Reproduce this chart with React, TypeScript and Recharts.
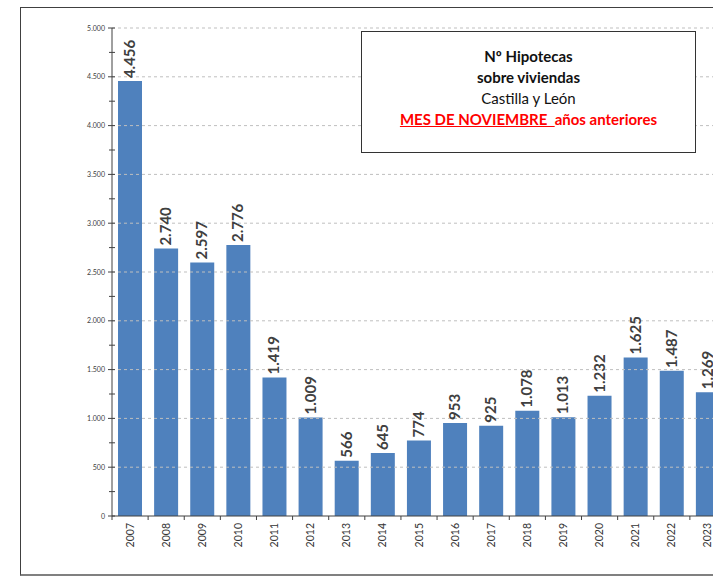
import React from 'react';
import { BarChart, Bar, XAxis, YAxis, ReferenceLine, LabelList } from 'recharts';

// ---------------------------------------------------------------------------
// Data
// ---------------------------------------------------------------------------

const years = ['2007', '2008', '2009', '2010', '2011', '2012', '2013', '2014', '2015',
  '2016', '2017', '2018', '2019', '2020', '2021', '2022', '2023'];
const hipotecas = [4456, 2740, 2597, 2776, 1419, 1009, 566, 645, 774, 953, 925, 1078,
  1013, 1232, 1625, 1487, 1269];
const yMajorTicks = [0, 500, 1000, 1500, 2000, 2500, 3000, 3500, 4000, 4500, 5000];
const yMinorTicks = [250, 750, 1250, 1750, 2250, 2750, 3250, 3750, 4250, 4750];

const data = years.map((year, i) => ({ year, value: hipotecas[i] }));

// ---------------------------------------------------------------------------
// Layout
// ---------------------------------------------------------------------------

const CHART_W = 760;
const CHART_H = 579;
const AXIS_X = 112;
const PLOT_RIGHT = 726;
const PLOT_BOTTOM = 516;
const BAND = (PLOT_RIGHT - AXIS_X) / years.length;
const FONT = 'Lato, "Open Sans", sans-serif';

const fmt = (v: number) => String(v).replace(/\B(?=(\d{3})+(?!\d))/g, '.');

const YTick = (props: any) => {
  const { y, payload } = props;
  const major = yMajorTicks.includes(payload.value);
  return (
    <g>
      <line x1={major ? AXIS_X - 4 : AXIS_X - 3} x2={AXIS_X + 3} y1={y} y2={y} stroke="#404040" />
      {major && (
        <text x={AXIS_X - 7} y={y} dy={2.5} textAnchor="end" fontSize={7} fill="#404040" fontFamily={FONT}>
          {fmt(payload.value)}
        </text>
      )}
    </g>
  );
};

const XTick = (props: any) => {
  const { x, payload, index } = props;
  const isLast = index === years.length - 1;
  return (
    <g>
      <line x1={x - BAND / 2} x2={x - BAND / 2} y1={PLOT_BOTTOM} y2={PLOT_BOTTOM + 4} stroke="#404040" />
      {isLast && (
        <line x1={x + BAND / 2} x2={x + BAND / 2} y1={PLOT_BOTTOM} y2={PLOT_BOTTOM + 4} stroke="#404040" />
      )}
      <text
        x={x}
        y={PLOT_BOTTOM + 7}
        transform={`rotate(-90 ${x} ${PLOT_BOTTOM + 7})`}
        dy={3.5}
        textAnchor="end"
        fontSize={10.5}
        fill="#333"
        fontFamily={FONT}
      >
        {payload.value}
      </text>
    </g>
  );
};

const renderValueLabel = (props: any) => {
  const { x, y, width, value } = props;
  const cx = x + width / 2;
  const ty = y - 3;
  return (
    <text
      x={cx}
      y={ty}
      dy={5}
      transform={`rotate(-90 ${cx} ${ty})`}
      textAnchor="start"
      fontSize={15}
      fontWeight={700}
      fill="#404040"
      fontFamily={FONT}
    >
      {fmt(value)}
    </text>
  );
};

export default function App() {
  return (
    <div style={{ position: 'relative', width: 713, height: 579, overflow: 'hidden', background: '#fff' }}>
      <style>{'body{margin:0;overflow:hidden}'}</style>
      <div
        style={{
          position: 'absolute',
          left: 20,
          top: 7,
          width: 740,
          height: 566,
          borderTop: '1px solid #404040',
          borderLeft: '1px solid #404040',
          borderBottom: '2px solid #808080',
        }}
      />
      <div style={{ position: 'absolute', left: 0, top: 0 }}>
        <BarChart
          width={CHART_W}
          height={CHART_H}
          data={data}
          margin={{ top: 28, right: CHART_W - PLOT_RIGHT, bottom: 0, left: 0 }}
          barSize={24}
        >
          {yMajorTicks.slice(1).map((t) => (
            <ReferenceLine key={t} y={t} stroke="#bfbfbf" strokeDasharray="3 3" />
          ))}
          <XAxis
            dataKey="year"
            height={CHART_H - PLOT_BOTTOM}
            interval={0}
            tickLine={false}
            axisLine={{ stroke: '#404040' }}
            tick={<XTick />}
          />
          <YAxis
            width={AXIS_X}
            domain={[0, 5000]}
            ticks={[...yMajorTicks, ...yMinorTicks].sort((a, b) => a - b)}
            interval={0}
            tickLine={false}
            axisLine={{ stroke: '#404040' }}
            tick={<YTick />}
          />
          <Bar dataKey="value" fill="#4F81BD" isAnimationActive={false}>
            <LabelList dataKey="value" content={renderValueLabel} />
          </Bar>
        </BarChart>
      </div>
      <div
        style={{
          position: 'absolute',
          left: 361,
          top: 31,
          width: 335,
          height: 122,
          border: '1px solid #333',
          background: '#fff',
          fontFamily: FONT,
          fontSize: 15,
          lineHeight: '21px',
          textAlign: 'center',
          color: '#111',
          paddingTop: 14,
          boxSizing: 'border-box',
        }}
      >
        <div style={{ fontWeight: 700 }}>Nº Hipotecas</div>
        <div style={{ fontWeight: 700 }}>sobre viviendas</div>
        <div>Castilla y León</div>
        <div style={{ fontWeight: 700, color: '#ff0000', whiteSpace: 'pre' }}>
          <span style={{ textDecoration: 'underline' }}>MES DE NOVIEMBRE  </span>años anteriores
        </div>
      </div>
    </div>
  );
}
